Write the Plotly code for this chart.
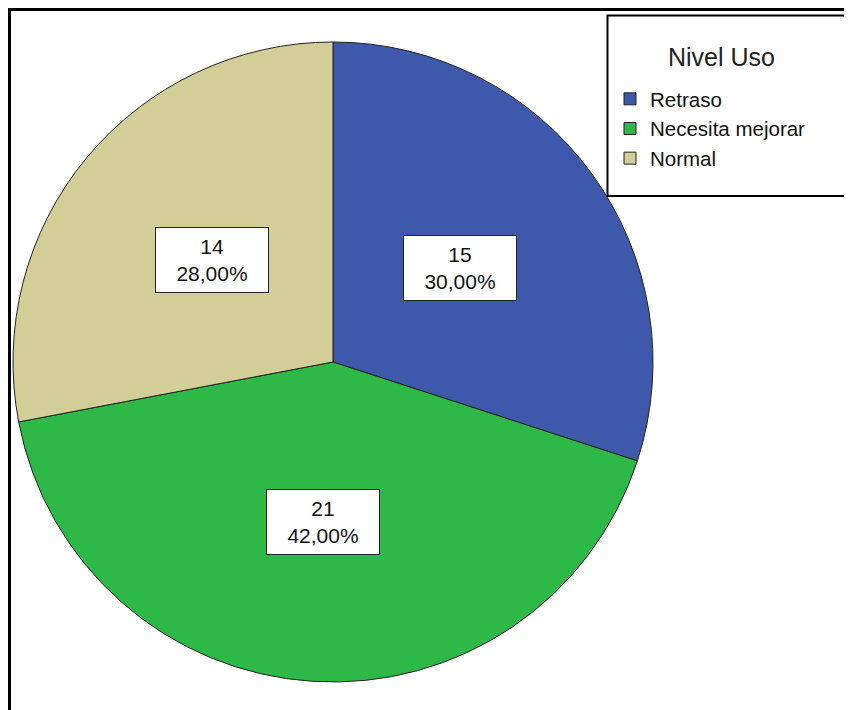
import math
import plotly.graph_objects as go

categories = ["Retraso", "Necesita mejorar", "Normal"]
counts = [15, 21, 14]
pct_labels = ["30,00%", "42,00%", "28,00%"]
colors = ["#3E58AC", "#2EB848", "#D3CE97"]
legend_title = "Nivel Uso"

W, H = 852, 710
OFF = 8  # page body margin offset
cx, cy, R = 333, 362, 320  # pie centre / radius in screen pixels (layout)

def px(x):
    return (x - OFF) / W

def py(y):
    return 1 - (y - OFF) / H

fig = go.Figure()
fig.add_trace(go.Pie(
    labels=categories,
    values=counts,
    sort=False,
    direction="clockwise",
    rotation=0,
    textinfo="none",
    hoverinfo="label+value+percent",
    marker=dict(colors=colors, line=dict(color="#222222", width=1)),
    domain=dict(x=[px(cx - R), px(cx + R)], y=[py(cy + R), py(cy - R)]),
))

# labels in white boxes at mid-angle of each slice
total = sum(counts)
cum = 0
annotations = []
for c, p in zip(counts, pct_labels):
    mid = (cum + c / 2) / total * 2 * math.pi
    cum += c
    lx = cx + 0.49 * R * math.sin(mid)
    ly = cy - 0.5 * R * math.cos(mid)
    annotations.append(dict(
        x=px(lx), y=py(ly), xref="paper", yref="paper",
        text=f"{c}<br>{p}", showarrow=False,
        font=dict(family="Liberation Sans, Arial", size=21, color="#111111"),
        bgcolor="white", bordercolor="#222222", borderwidth=1,
        width=110, height=62, align="center", valign="middle",
        xanchor="center", yanchor="middle",
    ))

# legend title
annotations.append(dict(
    x=px(721), y=py(57), xref="paper", yref="paper",
    text=legend_title, showarrow=False,
    font=dict(family="Liberation Sans, Arial", size=25, color="#222222"),
    xanchor="center", yanchor="middle",
))

shapes = [
    # outer frame
    dict(type="rect", xref="paper", yref="paper",
         x0=px(9.5), x1=px(900), y0=py(760), y1=py(9.5),
         line=dict(color="black", width=3), fillcolor="rgba(0,0,0,0)", layer="above"),
    # legend frame
    dict(type="rect", xref="paper", yref="paper",
         x0=px(607.5), x1=px(900), y0=py(196), y1=py(15.5),
         line=dict(color="black", width=2), fillcolor="rgba(0,0,0,0)", layer="above"),
]

fig.update_layout(
    width=W, height=H,
    margin=dict(l=0, r=0, t=0, b=0),
    paper_bgcolor="white", plot_bgcolor="white",
    font=dict(family="Liberation Sans, Arial", color="#111111"),
    annotations=annotations,
    shapes=shapes,
    showlegend=True,
    legend=dict(
        x=px(610), y=py(79), xanchor="left", yanchor="top",
        bgcolor="rgba(0,0,0,0)", borderwidth=0,
        font=dict(family="Liberation Sans, Arial", size=20.5, color="#111111"),
        traceorder="normal",
    ),
)

fig.write_html("out.html")
